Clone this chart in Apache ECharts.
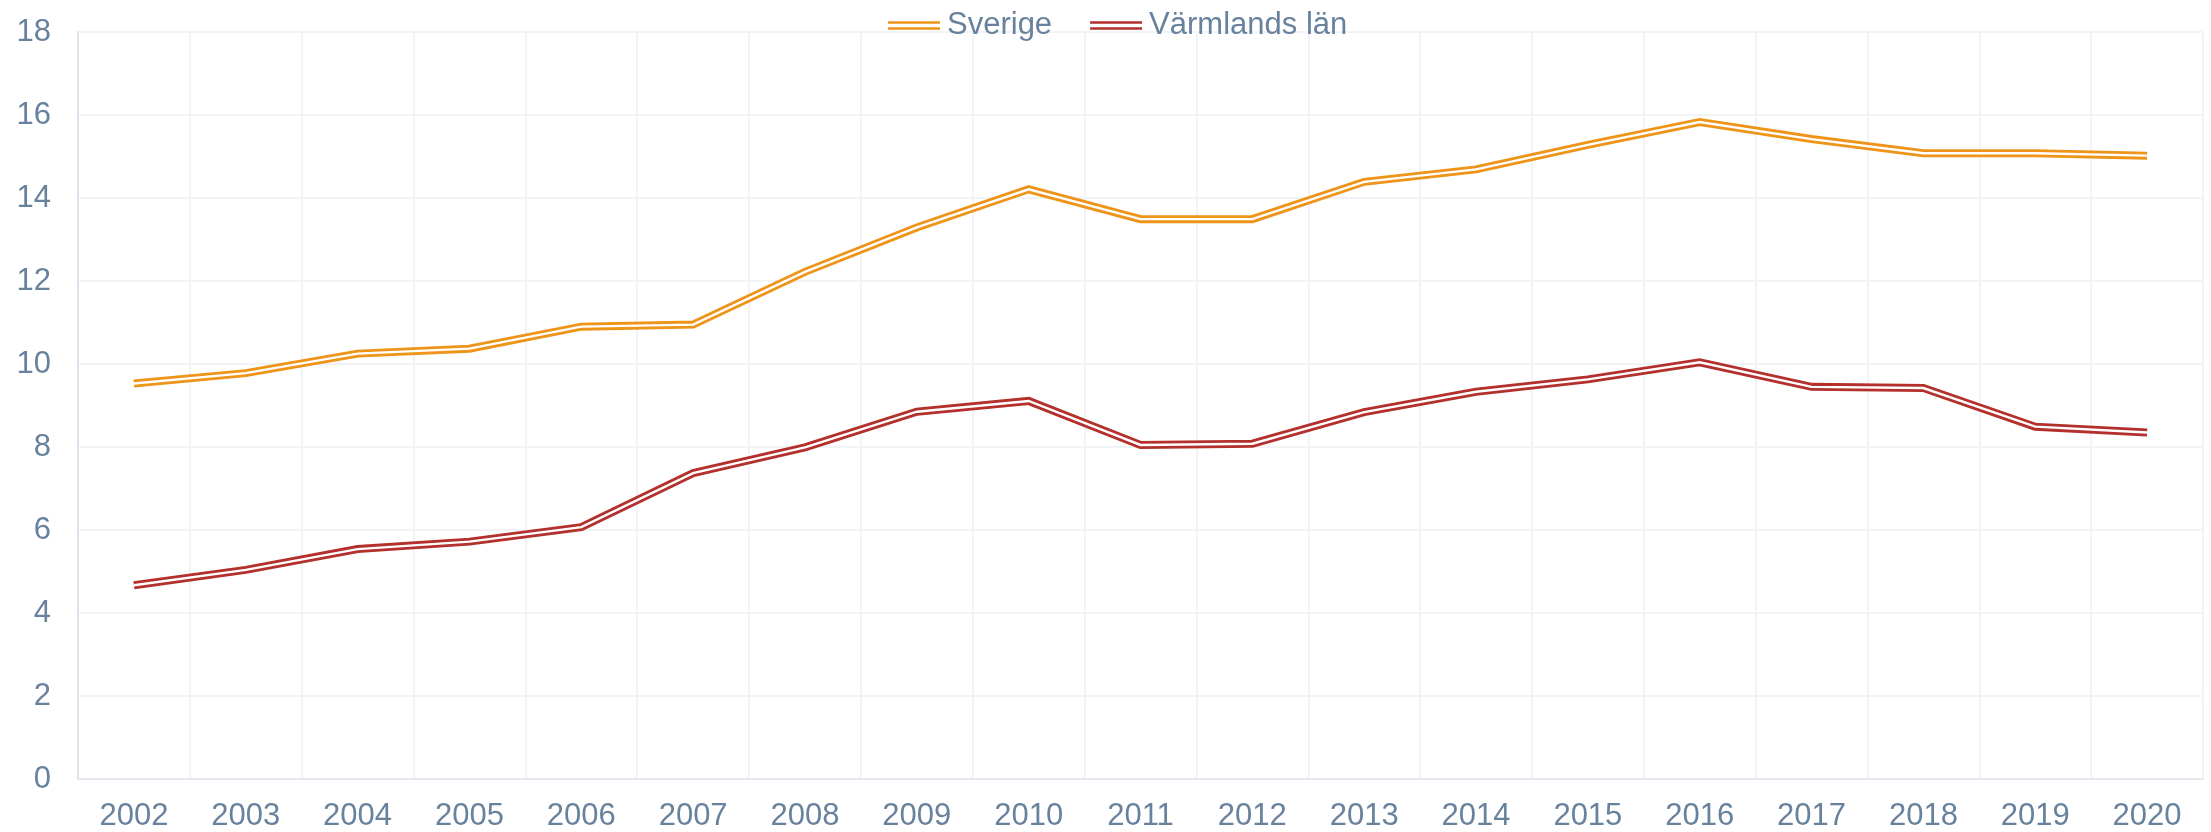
<!DOCTYPE html>
<html>
<head>
<meta charset="utf-8">
<script src="https://cdn.jsdelivr.net/npm/echarts@6/dist/echarts.min.js"></script>
<style>
html,body{margin:0;padding:0;background:#fff;}
#chart{width:2211px;height:832px;}
</style>
</head>
<body>
<div id="chart"></div>
<script>
const years = ['2002','2003','2004','2005','2006','2007','2008','2009','2010','2011','2012','2013','2014','2015','2016','2017','2018','2019','2020'];
const sverige = [9.53, 9.78, 10.25, 10.37, 10.90, 10.95, 12.22, 13.29, 14.21, 13.49, 13.49, 14.39, 14.69, 15.28, 15.83, 15.42, 15.08, 15.08, 15.02];
const varmland = [4.67, 5.04, 5.54, 5.72, 6.07, 7.37, 7.99, 8.85, 9.11, 8.05, 8.08, 8.84, 9.33, 9.63, 10.04, 9.45, 9.42, 8.49, 8.35];
const seriesNames = ['Sverige', 'Värmlands län'];
const seriesColors = ['#EE9419', '#B3302C'];

const textColor = '#68829E';
const font = 'Liberation Sans, Arial, sans-serif';
const doubleIcon = 'path://M0,0H52V2.7H0Z M0,6H52V8.7H0Z';

const chart = echarts.init(document.getElementById('chart'), null, {renderer: 'canvas'});

function doubleLine(name, data, color) {
  return [
    {
      name: name, type: 'line', data: data, symbol: 'none', silent: true,
      lineStyle: {color: color, width: 8, cap: 'butt', join: 'miter'},
      itemStyle: {color: color}, z: 2, animation: false
    },
    {
      name: name + '_inner', type: 'line', data: data, symbol: 'none', silent: true,
      lineStyle: {color: '#ffffff', width: 2.4, cap: 'butt', join: 'miter'},
      itemStyle: {color: '#ffffff'}, z: 3, animation: false
    }
  ];
}

const option = {
  backgroundColor: '#ffffff',
  animation: false,
  grid: {left: 78, right: 8, top: 32, bottom: 53, containLabel: false},
  legend: {
    data: seriesNames.map((n, i) => ({name: n, icon: doubleIcon, itemStyle: {color: seriesColors[i]}})),
    left: 883, top: 5,
    itemWidth: 52, itemHeight: 9, itemGap: 38,
    textStyle: {color: textColor, fontSize: 31, fontFamily: font, padding: [0, 0, 0, 2]}
  },
  xAxis: {
    type: 'category', data: years, boundaryGap: true,
    axisTick: {show: false},
    axisLine: {show: true, lineStyle: {color: '#E3E8EE', width: 2}},
    axisLabel: {color: textColor, fontSize: 31, fontFamily: font, margin: 22},
    splitLine: {show: true, lineStyle: {color: '#F1F3F6', width: 2}}
  },
  yAxis: {
    type: 'value', min: 0, max: 18, interval: 2,
    axisLine: {show: true, lineStyle: {color: '#DCE5EE', width: 2}},
    axisTick: {show: false},
    axisLabel: {color: textColor, fontSize: 31, fontFamily: font, margin: 27},
    splitLine: {show: true, lineStyle: {color: '#F1F3F6', width: 2}}
  },
  series: [
    ...doubleLine(seriesNames[0], sverige, seriesColors[0]),
    ...doubleLine(seriesNames[1], varmland, seriesColors[1])
  ]
};
chart.setOption(option);
</script>
</body>
</html>
